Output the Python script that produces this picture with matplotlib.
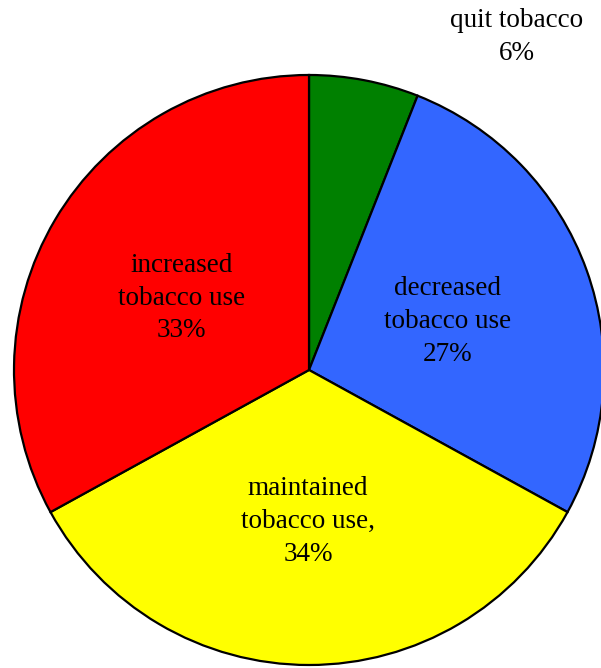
import matplotlib.pyplot as plt

labels = ['quit tobacco\n6%', 'decreased\ntobacco use\n27%',
          'maintained\ntobacco use,\n34%', 'increased\ntobacco use\n33%']
values = [6, 27, 34, 33]
colors = ['#008000', '#3366ff', '#ffff00', '#ff0000']

# label centres (data coords, pie radius = 1)
label_pos = [(0.705, 1.129), (0.468, 0.163), (-0.003, -0.512), (-0.431, 0.244)]

fig = plt.figure(figsize=(6.01, 6.68), dpi=100)
ax = fig.add_axes([0, 0, 1, 1])
ax.pie(values, colors=colors, startangle=90, counterclock=False,
       wedgeprops={'edgecolor': 'black', 'linewidth': 1.6})
for text, (x, y) in zip(labels, label_pos):
    ax.text(x, y, text, ha='center', va='center', fontsize=19.5,
            family='Liberation Serif', linespacing=1.42)
ax.set_aspect('auto')
ax.set_xlim(-1.0475, 0.9898)
ax.set_ylim(-1.0102, 1.2542)
ax.axis('off')
fig.savefig('out.png', dpi=100)
